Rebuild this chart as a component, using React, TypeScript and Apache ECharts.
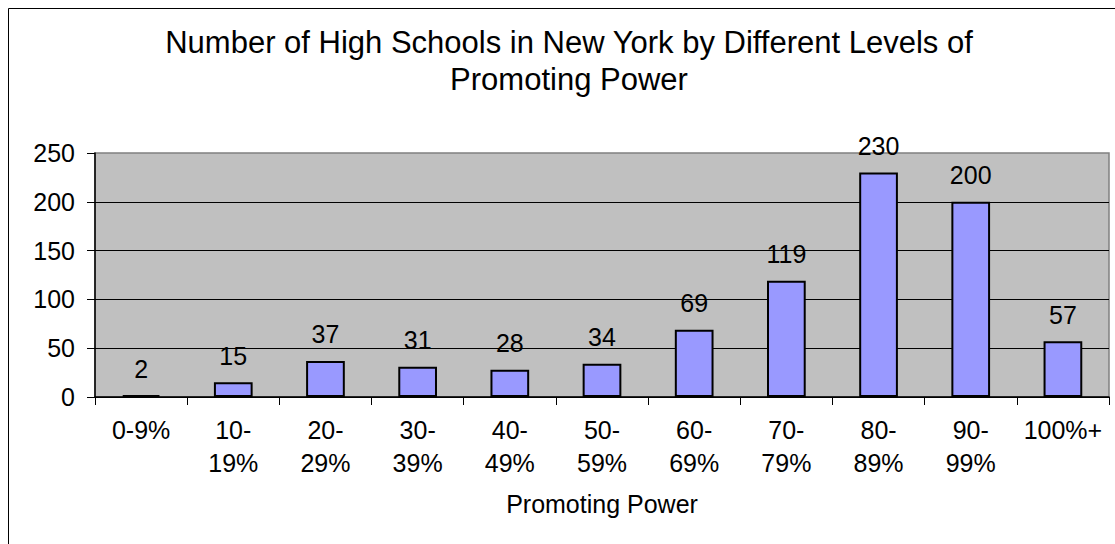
import React, { useEffect, useRef } from "react";
import * as echarts from "echarts";

const titleText = "Number of High Schools in New York by Different Levels of\nPromoting Power";
const axisName = "Promoting Power";
const categories = [
  "0-9%",
  "10-\n19%",
  "20-\n29%",
  "30-\n39%",
  "40-\n49%",
  "50-\n59%",
  "60-\n69%",
  "70-\n79%",
  "80-\n89%",
  "90-\n99%",
  "100%+",
];
const counts = [2, 15, 37, 31, 28, 34, 69, 119, 230, 200, 57];
const yMin = 0;
const yMax = 250;
const yInterval = 50;

const FONT = "'Liberation Sans', Arial, Helvetica, sans-serif";

export default function App() {
  const ref = useRef<HTMLDivElement>(null);
  useEffect(() => {
    const chart = echarts.init(ref.current!, null, { renderer: "svg" });
    chart.setOption({
      animation: false,
      backgroundColor: "#ffffff",
      textStyle: { fontFamily: FONT, color: "#000" },
      graphic: [
        {
          type: "rect",
          silent: true,
          shape: { x: 8.5, y: 8.5, width: 1300, height: 700 },
          style: { fill: "none", stroke: "#000", lineWidth: 1 },
        },
        {
          type: "text",
          x: 569,
          y: 24,
          style: {
            text: titleText,
            textAlign: "center",
            textVerticalAlign: "top",
            fontFamily: FONT,
            fontSize: 31,
            lineHeight: 37,
            fill: "#000",
          },
        },
      ],
      grid: {
        left: 95,
        right: 6,
        top: 153,
        bottom: 147,
        show: true,
        backgroundColor: "#C0C0C0",
        borderColor: "#808080",
        borderWidth: 1.5,
      },
      xAxis: {
        type: "category",
        data: categories,
        name: axisName,
        nameLocation: "middle",
        nameGap: 94,
        nameTextStyle: { fontFamily: FONT, fontSize: 25, color: "#000" },
        axisLine: { show: true, lineStyle: { color: "#000", width: 1.5 } },
        axisTick: { show: true, length: 8, lineStyle: { color: "#000" } },
        axisLabel: {
          fontFamily: FONT,
          fontSize: 25,
          color: "#000",
          lineHeight: 33,
          margin: 16,
          interval: 0,
        },
      },
      yAxis: {
        type: "value",
        min: yMin,
        max: yMax,
        interval: yInterval,
        axisLine: { show: true, lineStyle: { color: "#000", width: 1.5 } },
        axisTick: { show: true, length: 8, lineStyle: { color: "#000" } },
        axisLabel: { fontFamily: FONT, fontSize: 25, color: "#000", margin: 20 },
        splitLine: {
          show: true,
          showMaxLine: false,
          lineStyle: { color: "#000", width: 1 },
        },
      },
      series: [
        {
          type: "bar",
          data: counts,
          barWidth: "42%",
          itemStyle: { color: "#9999FF", borderColor: "#000", borderWidth: 2 },
          label: {
            show: true,
            position: "top",
            distance: 14,
            fontFamily: FONT,
            fontSize: 25,
            color: "#000",
          },
        },
      ],
    });
    return () => chart.dispose();
  }, []);
  return (
    <div
      ref={ref}
      style={{ position: "fixed", left: 0, top: 0, width: 1115, height: 544, background: "#fff" }}
    />
  );
}
